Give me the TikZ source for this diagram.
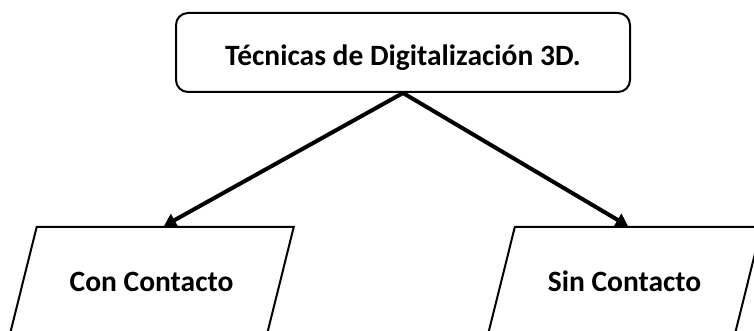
\documentclass[tikz,border=0pt]{standalone}
\usepackage{fontspec}
\setmainfont{Carlito}
\usetikzlibrary{positioning}
\usetikzlibrary{shapes.geometric}
\usetikzlibrary{arrows.meta}
\tikzset{>={Triangle[length=6pt,width=7pt]},
  tecbox/.style = {draw,rounded corners=6pt,line width=1pt,minimum width=227pt,minimum height=39.5pt,
    text height=13pt,text depth=0pt,font=\fontsize{14.75}{17}\selectfont\bfseries},
  para/.style = {trapezium,trapezium left angle=76,trapezium right angle=104,
    draw,line width=1pt,inner xsep=16.5pt,inner ysep=22.75pt,text height=9.5pt,text depth=0pt,
    font=\fontsize{14.75}{17}\selectfont\bfseries},
  flecha/.style = {->,line width=2pt}
}

\begin{document}
\begin{tikzpicture}[x=0.5pt,y=-0.5pt]
  \clip (0,0) rectangle (754,331);
  \node[tecbox] (tec) at (403,52.5) {Técnicas de Digitalización 3D.};
  \node[para] (con) at (151.5,282) {Con Contacto};
  \node[para] (sin) at (624.5,282) {Sin Contacto};
  \draw[flecha] (tec.south) -- ([xshift=-0.75pt]con.top side);
  \draw[flecha] (tec.south) -- ([xshift=-5.25pt]sin.top side);
\end{tikzpicture}
\end{document}
